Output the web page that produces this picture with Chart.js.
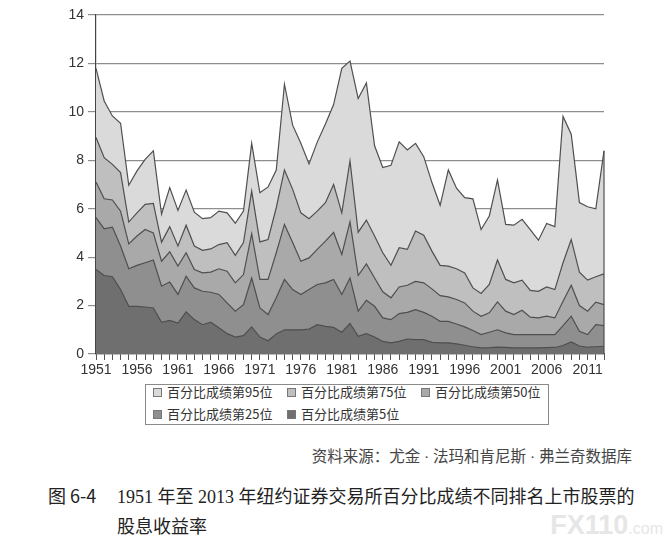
<!DOCTYPE html>
<html>
<head>
<meta charset="utf-8">
<script src="https://cdn.jsdelivr.net/npm/chart.js@4.4.0/dist/chart.umd.min.js"></script>
<style>
  body { margin: 0; background: #fff; }
  #wrap { position: relative; width: 669px; height: 549px; overflow: hidden; background: #fff; }
  #chartBox { position: absolute; left: 0; top: 0; width: 669px; height: 380px; }
  #legend {
    position: absolute; left: 145px; top: 384px; width: 404px; height: 41px;
    box-sizing: border-box; border: 1px solid #8a8a8a; padding: 0 0 0 7px;
    display: flex; flex-wrap: wrap; row-gap: 8px; align-content: flex-start;
    font-family: "Noto Sans CJK SC", sans-serif; font-size: 13px; color: #333;
  }
  #legend .item { width: 134px; height: 14px; line-height: 14px; display: flex; align-items: center; white-space: nowrap; }
  #legend .item:nth-child(3) { width: 118px; }
  #legend .sw { width: 7px; height: 7px; border: 1px solid #777; margin-right: 5px; flex: none; }
  .txt { position: absolute; white-space: nowrap; }
  #source { right: 37px; top: 444px; font-family: "Liberation Serif", "Noto Sans CJK SC", serif; font-size: 15.5px; color: #444; }
  #capNo { left: 48px; top: 482px; font-family: "Noto Sans CJK SC", sans-serif; font-size: 18px; color: #222; }
  #cap1 { left: 117px; top: 482px; font-family: "Liberation Serif", "Noto Sans CJK SC", serif; font-size: 18px; color: #222; }
  #cap2 { left: 117px; top: 512px; font-family: "Noto Sans CJK SC", sans-serif; font-size: 18px; color: #222; }
  #mark { right: 6px; top: 510px; font-family: "Liberation Sans", sans-serif; font-weight: bold; color: #e6e6e6; font-size: 27px; }
  #mark span { font-size: 16px; font-weight: normal; }
</style>
</head>
<body>
<div id="wrap">
  <div id="chartBox"><canvas id="chart1"></canvas></div>
  <div id="legend"></div>
  <div class="txt" id="source">资料来源：尤金 · 法玛和肯尼斯 · 弗兰奇数据库</div>
  <div class="txt" id="capNo">图 6-4</div>
  <div class="txt" id="cap1">1951 年至 2013 年纽约证券交易所百分比成绩不同排名上市股票的</div>
  <div class="txt" id="cap2">股息收益率</div>
  <div class="txt" id="mark">FX110<span>.com</span></div>
</div>
<script>
"use strict";

// data
var years = [];
for (var y = 1951; y <= 2013; y++) years.push(String(y));

var seriesNames = ['百分比成绩第95位', '百分比成绩第75位', '百分比成绩第50位', '百分比成绩第25位', '百分比成绩第5位'];

var p95 = [11.8, 10.45, 9.83, 9.53, 6.97, 7.56, 8.04, 8.39, 5.77, 6.87,
           5.93, 6.77, 5.86, 5.59, 5.63, 5.9, 5.83, 5.4, 5.9, 8.7,
           6.66, 6.9, 7.6, 11.14, 9.45, 8.7, 7.85, 8.75, 9.5, 10.3,
           11.8, 12.1, 10.55, 11.19, 8.6, 7.7, 7.79, 8.76, 8.43, 8.7,
           8.15, 7.08, 6.14, 7.6, 6.85, 6.46, 6.41, 5.14, 5.7, 7.19,
           5.35, 5.32, 5.56, 5.14, 4.7, 5.39, 5.26, 9.81, 9.08, 6.25,
           6.08, 6.0, 8.39];
var p75 = [8.94, 8.11, 7.83, 7.49, 5.45, 5.83, 6.18, 6.22, 4.62, 5.26,
           4.46, 5.32, 4.46, 4.28, 4.34, 4.52, 4.6, 4.07, 4.6, 6.73,
           4.63, 4.73, 6.04, 7.6, 6.8, 5.83, 5.59, 5.9, 6.25, 7.0,
           5.83, 7.97, 5.03, 5.53, 4.87, 4.18, 3.66, 4.39, 4.32, 5.08,
           4.91, 4.25, 3.66, 3.63, 3.52, 3.35, 2.73, 2.5, 2.87, 3.88,
           3.08, 2.94, 3.05, 2.63, 2.59, 2.77, 2.66, 3.77, 4.73, 3.38,
           3.05, 3.19, 3.31];
var p50 = [7.1, 6.41, 6.36, 5.9, 4.55, 4.87, 5.14, 5.0, 3.83, 4.22,
           3.63, 4.18, 3.49, 3.35, 3.38, 3.52, 3.42, 2.94, 3.28, 4.97,
           3.08, 3.08, 4.18, 5.35, 4.6, 3.83, 3.97, 4.32, 4.66, 5.02,
           4.11, 5.46, 3.24, 3.72, 3.14, 2.57, 2.32, 2.77, 2.84, 3.0,
           2.94, 2.69, 2.41, 2.36, 2.25, 2.11, 1.77, 1.56, 1.7, 2.15,
           1.77, 1.63, 1.81, 1.52, 1.49, 1.56, 1.49, 2.18, 2.84, 2.0,
           1.77, 2.14, 2.04];
var p25 = [5.63, 5.17, 5.24, 4.46, 3.52, 3.66, 3.77, 3.88, 2.8, 2.97,
           2.46, 3.21, 2.73, 2.59, 2.55, 2.46, 2.11, 1.77, 2.04, 3.14,
           1.9, 1.63, 2.32, 3.08, 2.66, 2.46, 2.66, 2.87, 2.94, 3.08,
           2.46, 3.14, 1.77, 2.22, 1.97, 1.49, 1.42, 1.67, 1.72, 1.83,
           1.72, 1.56, 1.35, 1.35, 1.24, 1.12, 0.97, 0.8, 0.9, 1.0,
           0.87, 0.8, 0.8, 0.8, 0.8, 0.8, 0.8, 1.17, 1.56, 0.94,
           0.8, 1.21, 1.17];
var p5 = [3.49, 3.24, 3.19, 2.66, 1.97, 1.97, 1.94, 1.9, 1.31, 1.39,
          1.28, 1.74, 1.42, 1.21, 1.31, 1.08, 0.84, 0.7, 0.76, 1.12,
          0.7, 0.55, 0.83, 1.0, 1.0, 1.0, 1.03, 1.21, 1.14, 1.1,
          0.9, 1.26, 0.73, 0.84, 0.7, 0.52, 0.46, 0.52, 0.62, 0.59,
          0.59, 0.48, 0.46, 0.46, 0.42, 0.36, 0.3, 0.25, 0.26, 0.28,
          0.27, 0.25, 0.25, 0.25, 0.25, 0.26, 0.27, 0.35, 0.5, 0.33,
          0.28, 0.3, 0.32];

var yMin = 0, yMax = 14, yStep = 2;

var fills = ['#dadada', '#bfbfbf', '#a9a9a9', '#8f8f8f', '#6f6f6f'];
var allSeries = [p95, p75, p50, p25, p5];

var datasets = allSeries.map(function(values, i) {
  return {
    label: seriesNames[i],
    data: values,
    backgroundColor: fills[i],
    borderColor: '#4f4f4f',
    borderWidth: 1.2,
    pointRadius: 0,
    tension: 0,
    fill: 'origin',
    order: allSeries.length - i
  };
});

// closes the right edge of the top area down to zero
var rightEdge = {
  id: 'rightEdge',
  afterDatasetsDraw: function(chart) {
    var meta = chart.getDatasetMeta(0);
    var last = meta.data[meta.data.length - 1];
    var base = chart.scales.y.getPixelForValue(0);
    var ctx = chart.ctx;
    ctx.save();
    ctx.strokeStyle = '#4f4f4f';
    ctx.lineWidth = 1.2;
    ctx.beginPath();
    ctx.moveTo(last.x, last.y);
    ctx.lineTo(last.x, base);
    ctx.stroke();
    ctx.restore();
  }
};

// html legend built from the chart's own label list
var htmlLegend = {
  id: 'htmlLegend',
  afterUpdate: function(chart) {
    var box = document.getElementById('legend');
    box.innerHTML = '';
    var items = chart.options.plugins.legend.labels.generateLabels(chart);
    items.sort(function(a, b) { return a.datasetIndex - b.datasetIndex; });
    items.forEach(function(item) {
      var el = document.createElement('div');
      el.className = 'item';
      var sw = document.createElement('span');
      sw.className = 'sw';
      sw.style.background = item.fillStyle;
      el.appendChild(sw);
      el.appendChild(document.createTextNode(item.text));
      box.appendChild(el);
    });
  }
};

var ctx = document.getElementById('chart1').getContext('2d');

var myChart = new Chart(ctx, {
  type: 'line',
  data: {
    labels: years,
    datasets: datasets
  },
  plugins: [rightEdge, htmlLegend],
  options: {
    responsive: true,
    maintainAspectRatio: false,
    animation: false,
    layout: {
      padding: { left: 0, right: 65, top: 15, bottom: 0 }
    },
    plugins: {
      legend: { display: false },
      tooltip: { enabled: false }
    },
    scales: {
      x: {
        type: 'category',
        offset: false,
        afterFit: function(scale) { scale.height = 26; },
        grid: {
          drawOnChartArea: false,
          drawTicks: true,
          tickLength: 6,
          color: '#555'
        },
        border: { color: '#444', width: 1.2 },
        ticks: {
          autoSkip: false,
          maxRotation: 0,
          minRotation: 0,
          padding: 2,
          color: '#333',
          font: { family: 'Liberation Sans', size: 14 },
          callback: function(value, index) {
            return index % 5 === 0 ? years[index] : '';
          }
        }
      },
      y: {
        type: 'linear',
        min: yMin,
        max: yMax,
        afterFit: function(scale) { scale.width = 96; },
        grid: {
          color: '#8e8e8e',
          lineWidth: 1.2,
          tickLength: 8
        },
        border: { display: true, color: '#444', width: 1.2 },
        ticks: {
          stepSize: yStep,
          padding: 4,
          color: '#333',
          font: { family: 'Liberation Sans', size: 14 }
        }
      }
    }
  }
});
</script>
</body>
</html>
